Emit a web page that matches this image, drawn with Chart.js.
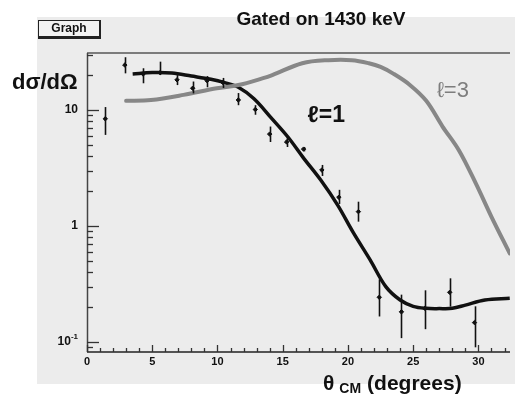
<!DOCTYPE html>
<html>
<head>
<meta charset="utf-8">
<script src="https://cdn.jsdelivr.net/npm/chart.js@4/dist/chart.umd.min.js"></script>
<style>
html,body{margin:0;padding:0;background:#fff;}
#c{display:block;}
</style>
</head>
<body>
<canvas id="c" width="515" height="398"></canvas>
<script>
// ---- data ----
const thetaExp = [1.4, 2.9, 4.3, 5.6, 6.9, 8.1, 9.2, 10.4, 11.6, 12.9, 14.0, 15.3, 16.6, 18.0, 19.3, 20.8, 22.4, 24.1, 25.9, 27.8, 29.7];
const sigmaExp = [8.4, 24.4, 20.4, 21.0, 18.2, 15.4, 17.9, 17.3, 12.2, 10.1, 6.2, 5.3, 4.6, 3.04, 1.77, 1.33, 0.243, 0.182, 0.195, 0.268, 0.147];
const sigmaHi  = [10.6, 28.5, 22.9, 26.1, 20.0, 17.6, 19.6, 18.9, 14.0, 11.0, 7.2, 5.8, 4.8, 3.36, 2.05, 1.62, 0.347, 0.256, 0.279, 0.354, 0.203];
const sigmaLo  = [6.1, 20.7, 17.0, 20.0, 16.4, 13.9, 15.7, 15.5, 11.0, 9.1, 5.3, 4.8, 4.4, 2.70, 1.55, 1.09, 0.166, 0.108, 0.129, 0.202, 0.090];

const l1Theta = [3.5, 5.0, 6.5, 8.0, 9.5, 10.5, 11.6, 12.8, 14.1, 15.4, 16.6, 17.9, 19.2, 20.4, 21.7, 22.9, 24.0, 25.0, 26.0, 27.0, 28.0, 29.0, 30.5, 32.4];
const l1Sigma = [20.4, 21.0, 20.8, 19.6, 18.4, 17.3, 15.7, 12.5, 8.6, 5.85, 3.85, 2.5, 1.52, 0.88, 0.51, 0.30, 0.23, 0.203, 0.195, 0.194, 0.195, 0.208, 0.23, 0.238];

const l3Theta = [3.0, 4.9, 7.4, 9.95, 11.6, 13.5, 14.2, 16.5, 18.5, 20.3, 21.6, 22.5, 23.5, 24.7, 26.0, 27.25, 28.5, 29.8, 31.0, 32.4];
const l3Sigma = [12.0, 12.2, 13.5, 15.4, 16.4, 18.8, 20.0, 25.3, 26.9, 26.9, 25.3, 23.5, 20.5, 16.6, 12.0, 7.2, 4.5, 2.33, 1.2, 0.58];

const xTickValues = [0, 5, 10, 15, 20, 25, 30];
const xTickLabels = ['0', '5', '10', '15', '20', '25', '30'];
const yTickValues = [10, 1, 0.1];
const yTickLabels = [['10', ''], ['1', ''], ['10', '-1']]; // [base, superscript]

const titleText = 'Gated on 1430 keV';
const boxText = 'Graph';
const yTitle = 'dσ/dΩ';
const xTitleParts = ['θ', 'CM', '(degrees)'];
const curveLabels = ['ℓ=1', 'ℓ=3'];

const F = (s, b) => (b ? 'bold ' : '') + s + 'px "Liberation Sans", Arial, sans-serif';

const decor = {
  id: 'decor',
  beforeDraw(chart) {
    const c = chart.ctx;
    c.save();
    c.fillStyle = '#ffffff';
    c.fillRect(0, 0, chart.width, chart.height);
    c.fillStyle = '#ececec';
    c.fillRect(37, 17, chart.width - 37, 367);
    c.restore();
  },
  beforeDatasetsDraw(chart) {
    const c = chart.ctx, a = chart.chartArea, xs = chart.scales.x, ys = chart.scales.y;
    c.save();
    // frame top
    c.strokeStyle = '#7c7c7c'; c.lineWidth = 2;
    c.beginPath(); c.moveTo(a.left, a.top); c.lineTo(a.right, a.top); c.stroke();
    // left axis
    c.strokeStyle = '#444'; c.lineWidth = 1.5;
    c.beginPath(); c.moveTo(a.left + 0.5, a.top); c.lineTo(a.left + 0.5, a.bottom); c.stroke();
    // bottom axis
    c.strokeStyle = '#222'; c.lineWidth = 1.5;
    c.beginPath(); c.moveTo(a.left, a.bottom); c.lineTo(a.right, a.bottom); c.stroke();
    // y ticks (log)
    c.lineWidth = 1.3; c.strokeStyle = '#333';
    for (let d = -2; d <= 1; d++) {
      for (let m = 1; m <= 9; m++) {
        const v = m * Math.pow(10, d);
        if (v < ys.min || v > ys.max) continue;
        const y = Math.round(ys.getPixelForValue(v)) + 0.5;
        const len = m === 1 ? 12 : 6;
        c.beginPath(); c.moveTo(a.left, y); c.lineTo(a.left + len, y); c.stroke();
      }
    }
    // x ticks
    for (let i = 0; i <= Math.floor(xs.max); i++) {
      const x = Math.round(xs.getPixelForValue(i)) + 0.5;
      const len = i % 5 === 0 ? 7 : 4;
      c.beginPath(); c.moveTo(x, a.bottom); c.lineTo(x, a.bottom - len); c.stroke();
    }
    // x tick labels
    c.fillStyle = '#111'; c.font = F(11, true); c.textAlign = 'center'; c.textBaseline = 'middle';
    xTickValues.forEach((v, i) => c.fillText(xTickLabels[i], xs.getPixelForValue(v), a.bottom + 10));
    // y tick labels
    yTickValues.forEach((v, i) => {
      const y = ys.getPixelForValue(v);
      const [base, sup] = yTickLabels[i];
      c.textBaseline = 'middle'; c.textAlign = 'right';
      if (sup) {
        c.font = F(8, true);
        const sw = c.measureText(sup).width;
        c.fillText(sup, a.left - 9, y - 5);
        c.font = F(12, true);
        c.fillText(base, a.left - 9 - sw, y);
      } else {
        c.font = F(12, true);
        c.fillText(base, a.left - 9, y);
      }
    });
    c.restore();
  },
  afterDatasetsDraw(chart) {
    const c = chart.ctx, xs = chart.scales.x, ys = chart.scales.y, a = chart.chartArea;
    c.save();
    c.beginPath(); c.rect(a.left, a.top, a.right - a.left, a.bottom - a.top); c.clip();
    c.strokeStyle = '#111'; c.lineWidth = 1.6;
    thetaExp.forEach((t, i) => {
      const x = Math.round(xs.getPixelForValue(t)) + 0.5;
      c.beginPath();
      c.moveTo(x, ys.getPixelForValue(sigmaHi[i]));
      c.lineTo(x, ys.getPixelForValue(sigmaLo[i]));
      c.stroke();
    });
    c.restore();
    c.save();
    // curve labels
    c.textAlign = 'left'; c.textBaseline = 'middle';
    c.fillStyle = '#111'; c.font = F(23, true);
    c.fillText(curveLabels[0], xs.getPixelForValue(16.9), ys.getPixelForValue(8.9));
    c.fillStyle = '#7d7d7d'; c.font = F(22, false);
    c.fillText(curveLabels[1], xs.getPixelForValue(26.8), ys.getPixelForValue(14.6));
    // title
    c.fillStyle = '#111'; c.textAlign = 'center'; c.font = F(19, true);
    c.fillText(titleText, 321, 20);
    // Graph box
    c.fillStyle = '#f2f2f2'; c.fillRect(38, 20, 62, 17);
    c.strokeStyle = '#222'; c.lineWidth = 1; c.strokeRect(38.5, 20.5, 61, 16);
    c.lineWidth = 2; c.beginPath(); c.moveTo(100, 20); c.lineTo(100, 38); c.lineTo(38, 38); c.stroke();
    c.fillStyle = '#111'; c.font = F(12, true);
    c.fillText(boxText, 69, 29);
    // y title
    c.textAlign = 'left'; c.font = F(22, true);
    c.fillText(yTitle, 12, 83);
    // x title
    c.font = F(21, true);
    let x = 323;
    c.fillText(xTitleParts[0], x, 384);
    x += c.measureText(xTitleParts[0]).width + 5;
    c.font = F(14, true);
    c.fillText(xTitleParts[1], x, 389);
    x += c.measureText(xTitleParts[1]).width + 6;
    c.font = F(21, true);
    c.fillText(xTitleParts[2], x, 384);
    c.restore();
  }
};

new Chart(document.getElementById('c'), {
  type: 'scatter',
  data: {
    datasets: [
      {
        label: 'l=3',
        data: l3Theta.map((t, i) => ({ x: t, y: l3Sigma[i] })),
        showLine: true, borderColor: '#878787', borderWidth: 4, pointRadius: 0,
        tension: 0.35, borderCapStyle: 'round'
      },
      {
        label: 'l=1',
        data: l1Theta.map((t, i) => ({ x: t, y: l1Sigma[i] })),
        showLine: true, borderColor: '#111111', borderWidth: 3.5, pointRadius: 0,
        tension: 0.35
      },
      {
        label: 'data',
        data: thetaExp.map((t, i) => ({ x: t, y: sigmaExp[i] })),
        showLine: false, pointRadius: 2.2, pointBackgroundColor: '#111', pointBorderColor: '#111',
        pointStyle: 'rectRot'
      }
    ]
  },
  options: {
    responsive: false,
    animation: false,
    events: [],
    layout: { padding: { left: 87, top: 53, right: 0, bottom: 46 } },
    plugins: { legend: { display: false }, title: { display: false }, tooltip: { enabled: false } },
    scales: {
      x: { type: 'linear', min: 0, max: 32.42, display: false },
      y: { type: 'logarithmic', min: 0.082, max: 31, display: false }
    }
  },
  plugins: [decor]
});
</script>
</body>
</html>
